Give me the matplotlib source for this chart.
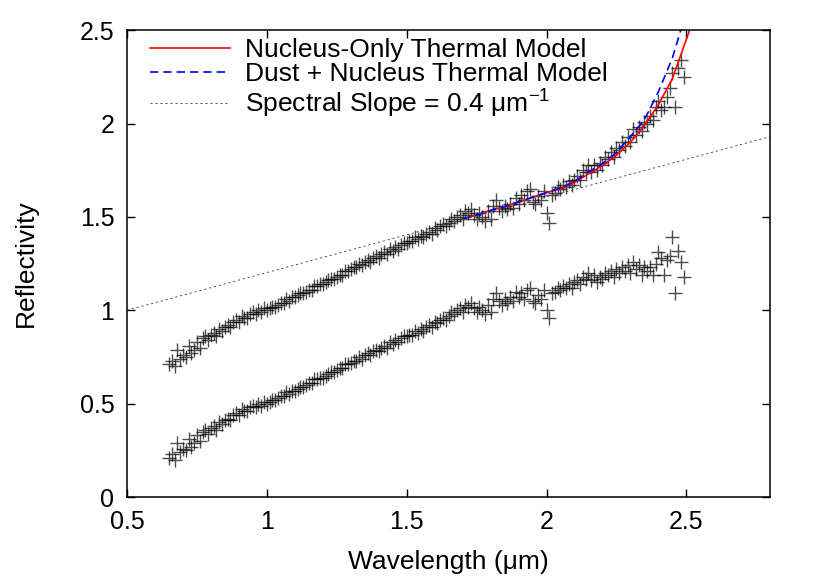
import numpy as np
import matplotlib
matplotlib.use("Agg")
import matplotlib.pyplot as plt

plt.rcParams['font.family'] = ['Liberation Sans', 'DejaVu Sans']
plt.rcParams['mathtext.fontset'] = 'custom'
plt.rcParams['mathtext.rm'] = 'Liberation Sans'

# wavelength grid of the spectra (um)
wl = np.round(np.arange(0.65, 2.495, 0.01), 2)

# lower spectrum
refl_low = [
    0.21, 0.23, 0.20, 0.29, 0.24, 0.26, 0.25, 0.31, 0.27, 0.29,
    0.33, 0.30, 0.35, 0.36, 0.34, 0.37, 0.38, 0.36, 0.40, 0.39,
    0.41, 0.42, 0.41, 0.44, 0.45, 0.44, 0.47, 0.46, 0.46, 0.48,
    0.49, 0.48, 0.50, 0.49, 0.51, 0.50, 0.51, 0.52, 0.52, 0.53,
    0.54, 0.54, 0.56, 0.55, 0.57, 0.57, 0.58, 0.59, 0.59, 0.60,
    0.61, 0.61, 0.63, 0.63, 0.64, 0.64, 0.65, 0.66, 0.67, 0.67,
    0.68, 0.69, 0.69, 0.71, 0.71, 0.72, 0.73, 0.73, 0.75, 0.74,
    0.76, 0.77, 0.76, 0.78, 0.79, 0.78, 0.80, 0.81, 0.80, 0.83,
    0.82, 0.84, 0.83, 0.85, 0.86, 0.86, 0.87, 0.87, 0.89, 0.88,
    0.90, 0.89, 0.91, 0.92, 0.91, 0.94, 0.93, 0.95, 0.96, 0.95,
    0.97, 0.99, 0.98, 1.00, 1.01, 0.99, 1.03, 1.02, 1.04, 1.01,
    0.99, 1.02, 1.00, 0.98, 1.03, 0.99, 1.06, 1.09, 1.05, 1.03,
    1.06, 1.04, 1.07, 1.05, 1.10, 1.07, 1.09, 1.06, 1.11, 1.12,
    1.05, 1.04, 1.08, 1.06, 1.11, 1.00, 0.96, 1.09, 1.10, 1.12,
    1.11, 1.13, 1.12, 1.14, 1.12, 1.15, 1.16, 1.14, 1.18, 1.17,
    1.20, 1.16, 1.19, 1.15, 1.18, 1.17, 1.20, 1.19, 1.21, 1.18,
    1.22, 1.20, 1.23, 1.21, 1.24, 1.20, 1.26, 1.22, 1.24, 1.19,
    1.23, 1.21, 1.23, 1.19, 1.25, 1.31, 1.28, 1.19, 1.27, 1.29,
    1.39, 1.09, 1.32, 1.26, 1.18,
]

# upper spectrum (offset, with thermal excess at long wavelengths)
refl_up = [
    0.71, 0.73, 0.70, 0.79, 0.74, 0.76, 0.75, 0.81, 0.77, 0.79,
    0.83, 0.80, 0.85, 0.86, 0.84, 0.87, 0.88, 0.86, 0.90, 0.89,
    0.91, 0.92, 0.91, 0.94, 0.95, 0.94, 0.97, 0.96, 0.96, 0.98,
    0.99, 0.98, 1.00, 0.99, 1.01, 1.00, 1.01, 1.02, 1.02, 1.03,
    1.04, 1.04, 1.06, 1.05, 1.07, 1.07, 1.08, 1.09, 1.09, 1.10,
    1.11, 1.11, 1.13, 1.13, 1.14, 1.14, 1.15, 1.16, 1.17, 1.17,
    1.18, 1.19, 1.19, 1.21, 1.21, 1.22, 1.23, 1.23, 1.25, 1.24,
    1.26, 1.27, 1.26, 1.28, 1.29, 1.28, 1.30, 1.31, 1.30, 1.33,
    1.32, 1.34, 1.33, 1.35, 1.36, 1.36, 1.37, 1.37, 1.39, 1.38,
    1.40, 1.39, 1.41, 1.42, 1.41, 1.44, 1.43, 1.45, 1.46, 1.45,
    1.47, 1.49, 1.48, 1.50, 1.51, 1.49, 1.53, 1.52, 1.54, 1.51,
    1.49, 1.52, 1.50, 1.48, 1.53, 1.49, 1.56, 1.59, 1.55, 1.53,
    1.56, 1.54, 1.57, 1.55, 1.60, 1.57, 1.62, 1.59, 1.64, 1.65,
    1.58, 1.57, 1.61, 1.59, 1.64, 1.52, 1.47, 1.62, 1.63, 1.66,
    1.65, 1.67, 1.66, 1.69, 1.67, 1.70, 1.72, 1.70, 1.75, 1.74,
    1.78, 1.74, 1.78, 1.75, 1.79, 1.78, 1.82, 1.81, 1.85, 1.82,
    1.87, 1.86, 1.90, 1.88, 1.93, 1.90, 1.97, 1.94, 1.98, 1.96,
    2.01, 2.00, 2.04, 2.02, 2.09, 2.12, 2.07, 2.09, 2.14, 2.19,
    2.27, 2.09, 2.30, 2.34, 2.25,
]

# thermal models
model_wl = [1.70, 1.75, 1.80, 1.85, 1.90, 1.95, 2.00, 2.05, 2.10, 2.15,
            2.20, 2.25, 2.30, 2.35, 2.40, 2.45, 2.50, 2.53]
nucleus_only = [1.49, 1.51, 1.535, 1.555, 1.58, 1.605, 1.63, 1.65, 1.685, 1.73,
                1.775, 1.83, 1.90, 1.99, 2.10, 2.24, 2.45, 2.58]
dust_nucleus = [1.49, 1.51, 1.535, 1.555, 1.58, 1.605, 1.63, 1.655, 1.69, 1.74,
                1.785, 1.845, 1.93, 2.02, 2.17, 2.35, 2.60, 2.75]

# spectral slope line
slope_wl = [0.5, 2.8]
slope_refl = [1.0, 1.93]

fig = plt.figure(figsize=(8.3, 5.8), dpi=100)
ax = fig.add_axes([0.153, 0.143, 0.775, 0.805])

ax.plot(wl, refl_low, '+', color='black', ms=10, mew=1.0, alpha=0.7)
ax.plot(wl, refl_up, '+', color='black', ms=10, mew=1.0, alpha=0.7)

ax.plot(model_wl, nucleus_only, '-', color='red', lw=1.2,
        label='Nucleus-Only Thermal Model')
ax.plot(model_wl, dust_nucleus, '--', color='blue', lw=1.2, dashes=(5, 3),
        label='Dust + Nucleus Thermal Model')
ax.plot(slope_wl, slope_refl, color='#333333', lw=0.6, dashes=(2.5, 3.5),
        label='Spectral Slope = 0.4 \u03bcm$^{\\mathregular{-1}}$')

ax.set_xlim(0.5, 2.8)
ax.set_ylim(0, 2.5)
ax.set_xticks([0.5, 1, 1.5, 2, 2.5])
ax.set_xticklabels(['0.5', '1', '1.5', '2', '2.5'])
ax.set_yticks([0, 0.5, 1, 1.5, 2, 2.5])
ax.set_yticklabels(['0', '0.5', '1', '1.5', '2', '2.5'])
ax.tick_params(direction='in', top=True, right=True, length=6, width=1,
               labelsize=18, pad=9)
for s in ax.spines.values():
    s.set_linewidth(1.1)

ax.set_xlabel('Wavelength (\u03bcm)', fontsize=19, labelpad=12)
ax.set_ylabel('Reflectivity', fontsize=19, labelpad=30)

ax.legend(loc='upper left', frameon=False, fontsize=19, handlelength=3.0,
          handletextpad=0.6, labelspacing=0.0, borderaxespad=0.0,
          bbox_to_anchor=(0.02, 1.005))

fig.savefig('out.png', dpi=100)
